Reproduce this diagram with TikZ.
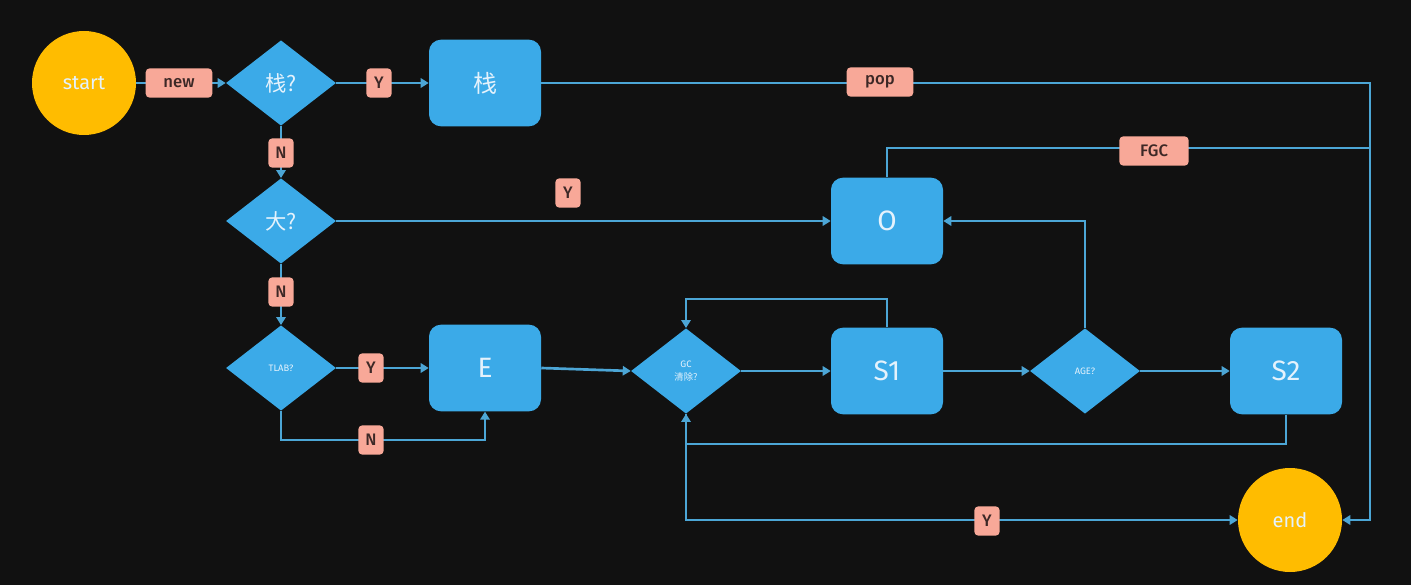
\documentclass[tikz,border=0pt]{standalone}
\usepackage{fontspec}
\setsansfont{Fira Sans}
\newfontfamily\cjk{Noto Sans CJK SC}
\newfontfamily\lblfont{Fira Sans Medium}
\usetikzlibrary{shapes.geometric,arrows.meta}
\definecolor{bg}{RGB}{17,17,17}
\definecolor{boxblue}{RGB}{59,170,232}
\definecolor{linblue}{RGB}{76,166,214}
\definecolor{ylw}{RGB}{255,188,0}
\definecolor{pinkl}{RGB}{248,168,152}
\definecolor{lbltxt}{RGB}{60,40,38}
\definecolor{wtxt}{RGB}{228,242,252}
\begin{document}
\begin{tikzpicture}[x=0.75pt,y=-0.75pt,
  blk/.style={fill=boxblue, rounded corners=9pt, minimum width=84pt, minimum height=65pt, inner sep=0pt, text=wtxt, font=\sffamily\fontsize{21}{21}\selectfont},
  dmd/.style={diamond, fill=boxblue, minimum width=82.5pt, minimum height=64pt, inner sep=0pt, text=wtxt, align=center},
  circ/.style={circle, fill=ylw, minimum size=78pt, inner sep=0pt, text=wtxt, font=\sffamily\fontsize{15}{15}\selectfont},
  lbl/.style={fill=pinkl, rounded corners=3pt, text=lbltxt, inner sep=0pt, minimum height=22pt, minimum width=19pt, font=\lblfont\fontsize{12.5}{12.5}\selectfont},
  conn/.style={draw=linblue, line width=2pt},
  arr/.style={conn, -{Triangle[width=7pt,length=6pt]}}]
\fill[bg] (0,0) rectangle (1411,585);
\useasboundingbox (0,0) rectangle (1411,585);
% main nodes
\node[circ] (start) at (84,83) {start};
\node[circ] (end) at (1290,520) {end};
\node[dmd, font=\cjk\fontsize{16}{16}\selectfont] (q1) at (281,83) {栈?};
\node[dmd, font=\cjk\fontsize{16}{16}\selectfont] (q2) at (281,221) {大?};
\node[dmd, font=\sffamily\fontsize{7}{7}\selectfont] (q3) at (281,368) {TLAB?};
\node[dmd, font=\sffamily\fontsize{7}{10}\selectfont] (gc) at (686,371) {GC\\{\cjk 清除?}};
\node[dmd, font=\sffamily\fontsize{7}{7}\selectfont] (age) at (1085,371) {AGE?};
\node[blk, font=\cjk\fontsize{18}{18}\selectfont] (stk) at (485,83) {栈};
\node[blk] (O) at (887,221) {O};
\node[blk] (E) at (485,368) {E};
\node[blk] (S1) at (887,371) {S1};
\node[blk] (S2) at (1286,371) {S2};
% helper coordinates
\coordinate (rtop) at (1370,83);
\coordinate (fgcr) at (1370,148);
\coordinate (tlabb) at (281,440);
\coordinate (s1up) at (887,299);
\coordinate (s2dn) at (1286,444);
% connectors
\draw[arr] (start.east) -- (q1.west);
\draw[arr] (q1.east) -- (stk.west);
\draw[arr] (stk.east) -- (rtop) |- (end.east);
\draw[arr] (q1.south) -- (q2.north);
\draw[arr] (q2.east) -- (O.west);
\draw[conn] (O.north) |- (fgcr);
\draw[arr] (q2.south) -- (q3.north);
\draw[arr] (q3.east) -- (E.west);
\draw[arr] (q3.south) -- (tlabb) -| (E.south);
\draw[arr] (E.east) -- (gc.west);
\draw[arr] (gc.east) -- (S1.west);
\draw[arr] (S1.north) -- (s1up) -| (gc.north);
\draw[arr] (S1.east) -- (age.west);
\draw[arr] (age.north) |- (O.east);
\draw[arr] (age.east) -- (S2.west);
\draw[arr] (S2.south) -- (s2dn) -| (gc.south);
\draw[arr] (gc.south) |- (end.west);
% labels
\node[lbl, minimum width=50pt] (lnew) at (179,83) {new};
\node[lbl] (ly1) at (379,83) {Y};
\node[lbl, minimum width=50pt] (lpop) at (880,82) {pop};
\node[lbl] (ln1) at (281,153) {N};
\node[lbl] (ly2) at (568,193) {Y};
\node[lbl, minimum width=52pt] (lfgc) at (1154,151) {FGC};
\node[lbl] (ln2) at (281,292) {N};
\node[lbl] (ly3) at (371,368) {Y};
\node[lbl] (ln3) at (371,440) {N};
\node[lbl] (ly4) at (987,521) {Y};
\end{tikzpicture}
\end{document}
